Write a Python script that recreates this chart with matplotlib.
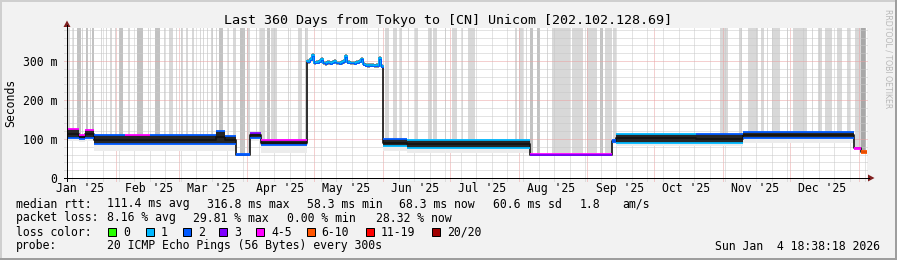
import numpy as np
import pandas as pd
import matplotlib
matplotlib.use("Agg")
import matplotlib.pyplot as plt
import matplotlib.dates as mdates
from matplotlib.lines import Line2D
from matplotlib.patches import Rectangle, Polygon

W, H, DPI = 897, 260, 100
MONO = "DejaVu Sans Mono"

# ---------------- data ----------------
t_start = pd.Timestamp("2025-01-09 18:38:18")
t_end = pd.Timestamp("2026-01-04 18:38:18")

# median-rtt band segments (ms); None = high plateau drawn from peak_values
seg_edges = ["2025-01-09 18:38", "2025-01-15", "2025-01-18", "2025-01-22", "2025-02-05",
             "2025-02-16", "2025-03-18", "2025-03-22", "2025-03-27", "2025-04-02",
             "2025-04-07", "2025-04-28", "2025-06-01", "2025-06-12", "2025-08-06",
             "2025-09-12", "2025-09-14", "2025-10-20", "2025-11-10", "2025-12-30",
             "2026-01-02", "2026-01-04 18:38"]
seg_low = [102, 100, 103, 86, 87, 86, 88, 86, 58, 103, 85, None, 82, 76, 58, 92, 91, 89, 103, 74, 64]
seg_high = [125, 111, 124, 109, 110, 109, 120, 108, 61, 115, 97, None, 99, 97, 61, 98, 114, 113, 117, 78, 68]
seg_smoke = [95, 92, 95, 70, 70, 68, 70, 70, 58, 95, 65, None, 70, 65, 58, 88, 82, 82, 90, 74, 64]
seg_top_loss = ["4-5", "4-5", "4-5", "2", "4-5", "2", "2", "2", "2", "3", "4-5", None,
                "2", "1", "4-5", "2", "1", "2", "2", "4-5", "6-10"]
seg_bot_loss = ["2", "2", "2", "2", "2", "2", "2", "2", "2", "2", "2", None,
                "1", "1", "3", "2", "1", "1", "2", "4-5", "6-10"]

# high plateau, daily median (ms) from 2025-04-28
peak_start = "2025-04-28"
peak_values = [299, 305, 316, 296, 298, 300, 304, 296, 294, 297, 295, 298, 300, 296,
               295, 297, 299, 312, 298, 296, 296, 295, 298, 300, 306, 292, 290, 289,
               290, 290, 288, 289, 308, 287]

# packet-loss stripes: day offsets from t_start (start, end) and shade level
loss_start = [0.45, 2.6, 4.6, 6.9, 8.6, 10.2, 11.3, 15.2, 17.7, 19.4, 21.5, 23.3, 27.6, 31.6,
              36.3, 39.5, 43.5, 46.0, 49.2, 51.2, 53.6, 56.3, 59.7, 61.1, 62.9, 64.7, 66.9,
              68.3, 72.3, 74.8, 77.9, 81.1, 85.2, 86.9, 89.9, 92.0, 99.3, 104.0, 107.1,
              140.0, 143.1, 146.7, 149.9, 153.3, 156.6, 162.5, 164.7, 169.9, 173.3, 177.6,
              180.4, 201.6, 203.4, 206.4, 208.4, 211.5, 215.8, 218.3, 227.3, 234.0, 239.9,
              242.1, 245.7, 293.9, 302.4, 306.5, 312.3, 314.8, 317.3, 323.8, 326.7, 335.1,
              338.0, 341.1, 346.5, 351.0, 354.6, 357.3]
loss_end = [1.35, 3.0, 6.2, 7.3, 9.5, 10.6, 12.2, 15.6, 18.1, 20.1, 21.9, 25.3, 28.4, 34.1,
            36.7, 41.9, 43.9, 47.8, 49.6, 52.1, 54.5, 57.2, 60.1, 61.5, 63.6, 65.6, 67.3,
            70.3, 72.7, 76.1, 80.0, 82.4, 85.6, 89.1, 91.4, 94.5, 99.7, 105.8, 108.5,
            140.5, 144.9, 148.5, 150.8, 153.7, 157.9, 164.3, 166.5, 170.3, 175.5, 178.0,
            183.6, 202.5, 205.2, 206.8, 209.7, 212.9, 216.2, 226.4, 232.2, 238.5, 241.2,
            245.3, 247.1, 297.5, 303.8, 311.0, 313.7, 315.2, 320.9, 324.2, 333.0, 335.5,
            339.8, 344.3, 348.8, 352.4, 357.3, 359.5]
loss_shade = [0, 0, 1, 0, 1, 0, 1, 0, 0, 0, 0, 1, 0, 1,
              0, 1, 0, 0, 0, 0, 0, 0, 0, 0, 0, 0, 0,
              1, 0, 0, 1, 0, 0, 0, 1, 0, 0, 0, 0,
              0, 0, 0, 0, 0, 0, 0, 0, 0, 0, 0,
              0, 0, 0, 0, 1, 1, 0, 0, 0, 0, 1,
              0, 0, 0, 0, 0, 0, 0, 0, 0, 0, 0,
              0, 0, 0, 0, 0, 2]

month_labels = ["Jan '25", "Feb '25", "Mar '25", "Apr '25", "May '25", "Jun '25",
                "Jul '25", "Aug '25", "Sep '25", "Oct '25", "Nov '25", "Dec '25"]
ytick_vals = [0, 100, 200, 300]
ytick_labels = ["0", "100 m", "200 m", "300 m"]

loss_keys = ["0", "1", "2", "3", "4-5", "6-10", "11-19", "20/20"]
loss_colors = ["#26ff00", "#00b8ff", "#0059ff", "#7e00ff", "#ff00ff", "#ff5500", "#ff0000", "#a00000"]

title = "Last 360 Days from Tokyo to [CN] Unicom [202.102.128.69]"
row1 = [(16, "median rtt:"), (107, "111.4 ms avg"), (207, "316.8 ms max"), (307, "58.3 ms min"),
        (399, "68.3 ms now"), (493, "60.6 ms sd"), (580, "1.8"), (622, "am/s")]
row2 = [(16, "packet loss:"), (107, "8.16 % avg"), (193, "29.81 % max"), (287, "0.00 % min"),
        (376, "28.32 % now")]
probe_text = "20 ICMP Echo Pings (56 Bytes) every 300s"
stamp = "Sun Jan  4 18:38:18 2026"

# ---------------- style ----------------
BACK = "#f2f2f2"
SHADEA = "#cfcfcf"
SHADEB = "#9e9e9e"
GRIDC = "#c8c8c8"
MGRIDC = "#eba0a0"
ARROW = "#7f1f1f"
SMOKE_DARK = "#262626"
SMOKE_LIGHT = "#ececec"
SHADES = ["#d8d8d8", "#c2c2c2", "#a8a8a8"]
YTOP = 150 / 0.39
FS = 8.3
PX = 72.0 / DPI  # one pixel in points
lc = dict(zip(loss_keys, loss_colors))

fig = plt.figure(figsize=(W / DPI, H / DPI), dpi=DPI, facecolor=BACK)


def P(x, y):
    return (x / W, 1 - y / H)


ax = fig.add_axes([67 / W, 1 - 178 / H, 800 / W, 150 / H])
ax.set_facecolor("white")
for s in ax.spines.values():
    s.set_visible(False)
x0 = mdates.date2num(t_start)
x1 = mdates.date2num(t_end)
ax.set_xlim(x0, x1)
ax.set_ylim(0, YTOP)

edges = mdates.date2num(pd.to_datetime(seg_edges, format="mixed"))
peak_x = mdates.date2num(pd.date_range(peak_start, periods=len(peak_values) + 1, freq="D"))


def base_at(t):
    for i in range(len(seg_low)):
        if edges[i] <= t < edges[i + 1]:
            if seg_low[i] is None:
                j = int(np.clip(np.searchsorted(peak_x, t, side="right") - 1, 0, len(peak_values) - 1))
                return peak_values[j]
            return seg_low[i]
    return seg_low[-1]


# loss stripes
ls = np.array(loss_start)
le = np.array(loss_end)
bx = x0 + ls
bw = np.maximum(le - ls, 0.45)
bases = np.array([base_at(x + w / 2) for x, w in zip(bx, bw)])
ax.bar(bx, YTOP - bases, width=bw, bottom=bases, align="edge",
       color=[SHADES[k] for k in loss_shade], lw=0, zorder=1)

# grid
weeks = mdates.date2num(pd.date_range("2025-01-12", "2026-01-04", freq="7D"))
months = mdates.date2num(pd.date_range("2025-02-01", "2026-01-01", freq="MS"))
ext = 3 * YTOP / 150
for w in weeks:
    if np.min(np.abs(months - w)) > 0.5:
        ax.plot([w, w], [-ext, YTOP], color=GRIDC, lw=PX, ls=(0, (1, 1)), zorder=2, clip_on=False)
for m in months:
    ax.plot([m, m], [-ext, YTOP], color=MGRIDC, lw=PX, ls=(0, (1, 1)), zorder=2, clip_on=False)
xext = 3 * (x1 - x0) / 800
for v in range(20, 390, 20):
    if v % 100 == 0:
        ax.plot([x0 - xext, x1], [v, v], color=MGRIDC, lw=PX, ls=(0, (1, 1)), zorder=2, clip_on=False)
    else:
        ax.plot([x0 - xext, x1], [v, v], color=GRIDC, lw=PX, ls=(0, (1, 1)), zorder=2, clip_on=False)

# median step line (dark) through all segments
mx, my = [], []
for i in range(len(seg_low)):
    if seg_low[i] is None:
        for j, v in enumerate(peak_values):
            mx += [peak_x[j], peak_x[j + 1]]
            my += [v, v]
    else:
        mid = (seg_low[i] + seg_high[i]) / 2
        mx += [edges[i], edges[i + 1]]
        my += [mid, mid]
ax.plot(mx, my, color="#111111", lw=1.2, zorder=3.5)

# bands
for i in range(len(seg_low)):
    if seg_low[i] is None:
        continue
    xs = [edges[i], edges[i + 1]]
    ax.fill_between(xs, seg_smoke[i], seg_low[i], color=SMOKE_LIGHT, lw=0, zorder=2.5)
    ax.fill_between(xs, seg_low[i], seg_high[i], color=SMOKE_DARK, lw=0, zorder=3)
    ax.plot(xs, [seg_high[i]] * 2, color=lc[seg_top_loss[i]], lw=1.3, zorder=4, solid_capstyle="butt")
    ax.plot(xs, [seg_low[i]] * 2, color=lc[seg_bot_loss[i]], lw=1.3, zorder=4, solid_capstyle="butt")

# plateau
pv = np.array(peak_values + [peak_values[-1]], dtype=float)
ax.fill_between(peak_x, pv - 6, pv + 5, step="post", color="#9a9a9a", lw=0, zorder=2.6)
ax.fill_between(peak_x, pv - 3, pv + 2, step="post", color=SMOKE_DARK, lw=0, zorder=3)
ax.step(peak_x, pv, where="post", color=lc["1"], lw=1.3, zorder=4)
ax.step(peak_x, pv - 2, where="post", color=lc["2"], lw=0.7, zorder=4)

# ticks
lbl_x = mdates.date2num(pd.date_range("2025-01-15 12:00", periods=12, freq=pd.DateOffset(months=1)))
ax.set_xticks(lbl_x)
ax.set_xticklabels(month_labels, family=MONO, fontsize=FS)
ax.set_yticks(ytick_vals)
ax.set_yticklabels(ytick_labels, family=MONO, fontsize=FS)
ax.tick_params(axis="x", length=0, pad=3.0)
ax.tick_params(axis="y", length=0, pad=6.8)

# axes lines & arrows
fig.add_artist(Line2D([64 / W, 869 / W], [1 - 178 / H] * 2, color="#000000", lw=PX))
fig.add_artist(Line2D([67 / W] * 2, [1 - 181 / H, 1 - 25 / H], color="#000000", lw=PX))
fig.add_artist(Polygon([P(63.5, 27), P(70.5, 27), P(67, 20.5)], closed=True, color=ARROW, lw=0))
fig.add_artist(Polygon([P(868, 174.5), P(868, 181.5), P(874.5, 178)], closed=True, color=ARROW, lw=0))

# frame shading
fig.add_artist(Line2D([0, 1], [1 - 1 / H] * 2, color=SHADEA, lw=2 * PX))
fig.add_artist(Line2D([1 / W] * 2, [0, 1], color=SHADEA, lw=2 * PX))
fig.add_artist(Line2D([0, 1], [1 / H] * 2, color=SHADEB, lw=2 * PX))
fig.add_artist(Line2D([1 - 1 / W] * 2, [0, 1], color=SHADEB, lw=2 * PX))

# texts
fig.text(*P(448, 24), title, ha="center", va="baseline", family=MONO, fontsize=9.6)
fig.text(*P(11, 103), "Seconds", ha="center", va="center", rotation=90, family=MONO, fontsize=FS)
fig.text(*P(888, 59), "RRDTOOL / TOBI OETIKER", ha="center", va="center", rotation=270,
         family="DejaVu Sans", fontsize=5.6, color="#b8b8b8")

for x, s in row1:
    fig.text(*P(x, 207.5), s, ha="left", va="baseline", family=MONO, fontsize=FS)
for x, s in row2:
    fig.text(*P(x, 221.5), s, ha="left", va="baseline", family=MONO, fontsize=FS)
fig.text(*P(16, 235.5), "loss color:", ha="left", va="baseline", family=MONO, fontsize=FS)
box_x = [108.3, 145.7, 182.7, 219.3, 256, 306.7, 366, 431.7]
for bxp, key, col in zip(box_x, loss_keys, loss_colors):
    fig.add_artist(Rectangle(P(bxp, 236), 8 / W, 8 / H, facecolor=col, edgecolor="black", lw=PX))
    fig.text(*P(bxp + 15, 235.5), key, ha="left", va="baseline", family=MONO, fontsize=FS)
fig.text(*P(16, 249.5), "probe:", ha="left", va="baseline", family=MONO, fontsize=FS)
fig.text(*P(107.3, 249.5), probe_text, ha="left", va="baseline", family=MONO, fontsize=FS)
fig.text(*P(880, 249.5), stamp, ha="right", va="baseline", family=MONO, fontsize=FS)

fig.savefig("out.png", dpi=DPI, facecolor=BACK)
